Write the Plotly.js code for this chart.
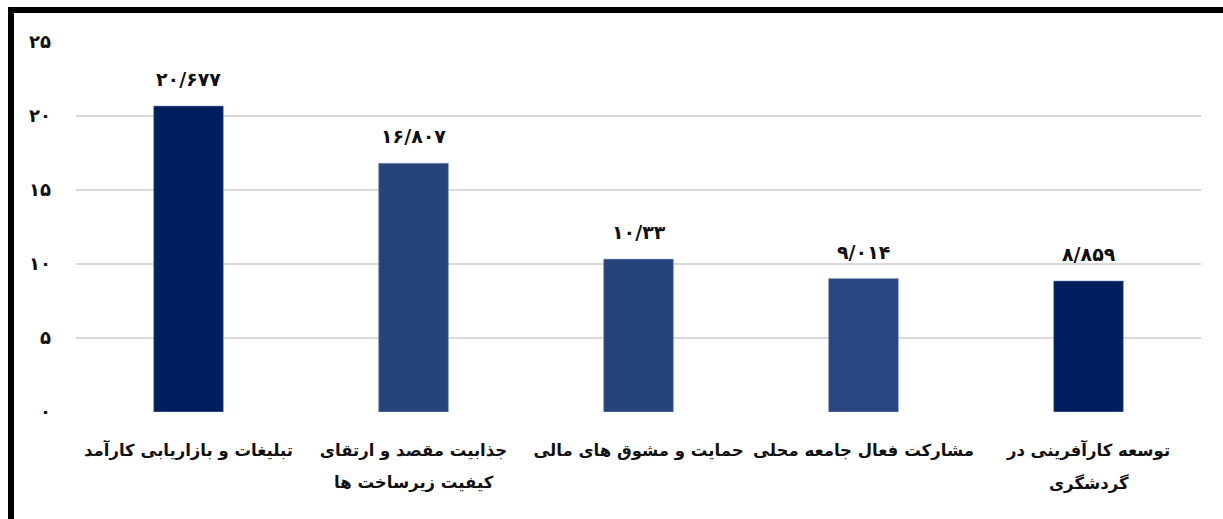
<!DOCTYPE html>
<html>
<head>
<meta charset="utf-8">
<script src="https://cdn.plot.ly/plotly-3.0.1.min.js"></script>
<style>
  html, body { margin:0; padding:0; background:#fff; overflow:hidden; }
  #chart { position:absolute; left:0; top:0; width:1223px; height:519px; }
  #frame { position:absolute; left:8px; top:7px; width:1230px; height:540px;
           border-left:6px solid #000; border-top:6px solid #000; pointer-events:none; }
</style>
</head>
<body>
<div id="chart"></div>
<div id="frame"></div>
<script>
// Category labels: first line and (optional) second line
const categories = [
  "تبلیغات و بازاریابی کارآمد",
  "جذابیت مقصد و ارتقای",
  "حمایت و مشوق های مالی",
  "مشارکت فعال جامعه محلی",
  "توسعه کارآفرینی در"
];
const categoriesLine2 = ["", "کیفیت زیرساخت ها", "", "", "گردشگری"];
const values = [20.677, 16.807, 10.33, 9.014, 8.859];
const barColors = ["#011f5f", "#27437b", "#27437b", "#2a4680", "#011f5f"];
const yTickVals = [0, 5, 10, 15, 20, 25];

const faDigits = "۰۱۲۳۴۵۶۷۸۹";
function toFa(s) { return String(s).replace(/\./g, "/").replace(/[0-9]/g, d => faDigits[+d]); }
const yTickText = yTickVals.map(toFa);
const valueText = values.map(toFa);

const font = "DejaVu Sans, sans-serif";

const trace = {
  type: "bar",
  x: categories,
  y: values,
  marker: { color: barColors, line: { color: "#8fa0c4", width: 0.6 } },
  hoverinfo: "skip"
};

const annotations = categories.map((c, i) => ({
  x: c, y: values[i], xref: "x", yref: "y",
  text: "<b>" + valueText[i] + "</b>",
  showarrow: false, yanchor: "bottom", yshift: 14,
  font: { family: font, size: 19, color: "#111" }
}));
categories.forEach((c, i) => {
  if (categoriesLine2[i]) {
    annotations.push({
      x: c, y: 0, xref: "x", yref: "paper",
      text: "<b>" + categoriesLine2[i] + "</b>",
      showarrow: false, yanchor: "middle", yshift: -71,
      font: { family: font, size: 16.5, color: "#111" }
    });
  }
});

const layout = {
  width: 1223, height: 519,
  margin: { l: 76, r: 22, t: 42, b: 107 },
  paper_bgcolor: "#fff", plot_bgcolor: "#fff",
  showlegend: false,
  bargap: 0.69,
  xaxis: {
    type: "category",
    showgrid: false, zeroline: false, showline: false, ticks: "",
    ticklabelstandoff: 26,
    tickfont: { family: font, size: 16.5, color: "#111", weight: "bold" }
  },
  yaxis: {
    range: [0, 25],
    tickvals: yTickVals, ticktext: yTickText,
    showgrid: true, gridcolor: "#d9d9d9", gridwidth: 1.5,
    zeroline: false, showline: false, ticks: "",
    ticklabelstandoff: 24,
    tickfont: { family: font, size: 18, color: "#111", weight: "bold" }
  },
  annotations: annotations
};

Plotly.newPlot("chart", [trace], layout, { displayModeBar: false, staticPlot: true });
</script>
</body>
</html>
